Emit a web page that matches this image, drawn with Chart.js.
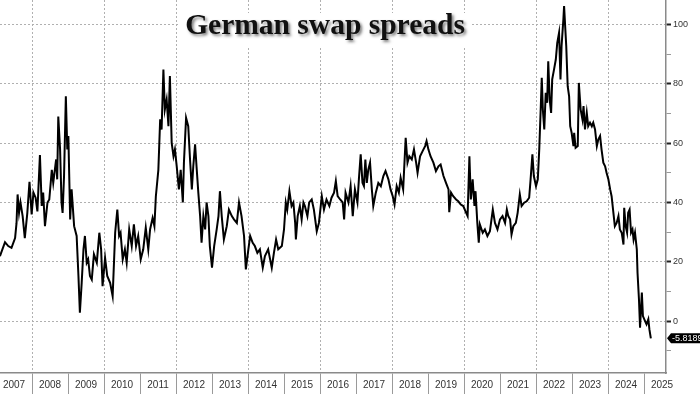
<!DOCTYPE html>
<html>
<head>
<meta charset="utf-8">
<title>German swap spreads</title>
<script src="https://cdn.jsdelivr.net/npm/chart.js@4.4.1/dist/chart.umd.min.js"></script>
<style>
    html, body { margin: 0; padding: 0; background: #fff; }
    #contenedor { position: relative; width: 700px; height: 394px; }
</style>
</head>
<body>
<div id="contenedor"><canvas id="grafico"></canvas></div>
<script>
const chartTitle = 'German swap spreads';
const years = [2007, 2008, 2009, 2010, 2011, 2012, 2013, 2014, 2015, 2016,
               2017, 2018, 2019, 2020, 2021, 2022, 2023, 2024, 2025];
const yTicks = [-10, 0, 10, 20, 30, 40, 50, 60, 70, 80, 90, 100];

// decimal years
const dates = [
    2007.11, 2007.25, 2007.34, 2007.43, 2007.53, 2007.57, 2007.60, 2007.64, 2007.68, 2007.74,
    2007.80, 2007.87, 2007.93, 2007.99, 2008.04, 2008.10, 2008.15, 2008.22, 2008.27, 2008.31,
    2008.36, 2008.43, 2008.48, 2008.55, 2008.59, 2008.67, 2008.70, 2008.73, 2008.78, 2008.82,
    2008.85, 2008.89, 2008.94, 2008.98, 2009.01, 2009.06, 2009.10, 2009.17, 2009.24, 2009.29,
    2009.33, 2009.38, 2009.43, 2009.47, 2009.52, 2009.56, 2009.61, 2009.66, 2009.72, 2009.80,
    2009.87, 2009.92, 2009.96, 2010.03, 2010.09, 2010.17, 2010.24, 2010.31, 2010.37, 2010.42,
    2010.46, 2010.52, 2010.58, 2010.63, 2010.70, 2010.77, 2010.83, 2010.89, 2010.95, 2011.02,
    2011.09, 2011.16, 2011.23, 2011.28, 2011.35, 2011.40, 2011.44, 2011.51, 2011.56, 2011.60,
    2011.65, 2011.69, 2011.74, 2011.79, 2011.83, 2011.88, 2011.93, 2011.97, 2012.02, 2012.08,
    2012.13, 2012.19, 2012.22, 2012.28, 2012.34, 2012.39, 2012.44, 2012.48, 2012.53, 2012.57,
    2012.62, 2012.67, 2012.71, 2012.76, 2012.81, 2012.85, 2012.90, 2012.94, 2013.00, 2013.06,
    2013.13, 2013.18, 2013.22, 2013.27, 2013.33, 2013.41, 2013.47, 2013.55, 2013.61, 2013.69,
    2013.75, 2013.82, 2013.89, 2013.94, 2014.01, 2014.06, 2014.13, 2014.19, 2014.26, 2014.33,
    2014.41, 2014.47, 2014.56, 2014.66, 2014.72, 2014.78, 2014.84, 2014.94, 2015.00, 2015.05,
    2015.09, 2015.15, 2015.21, 2015.26, 2015.31, 2015.33, 2015.38, 2015.44, 2015.49, 2015.54,
    2015.58, 2015.65, 2015.70, 2015.77, 2015.83, 2015.91, 2015.97, 2016.05, 2016.11, 2016.18,
    2016.26, 2016.32, 2016.39, 2016.44, 2016.49, 2016.56, 2016.63, 2016.67, 2016.71, 2016.79,
    2016.85, 2016.91, 2016.97, 2017.04, 2017.08, 2017.13, 2017.18, 2017.22, 2017.26, 2017.30,
    2017.34, 2017.39, 2017.44, 2017.48, 2017.55, 2017.62, 2017.69, 2017.76, 2017.82, 2017.90,
    2017.96, 2018.02, 2018.07, 2018.13, 2018.19, 2018.24, 2018.31, 2018.38, 2018.43, 2018.48,
    2018.55, 2018.61, 2018.67, 2018.71, 2018.78, 2018.85, 2018.92, 2018.96, 2019.01, 2019.07,
    2019.15, 2019.22, 2019.29, 2019.35, 2019.43, 2019.50, 2019.57, 2019.59, 2019.64, 2019.70,
    2019.78, 2019.84, 2019.91, 2019.98, 2020.06, 2020.10, 2020.15, 2020.19, 2020.24, 2020.29,
    2020.32, 2020.37, 2020.41, 2020.44, 2020.52, 2020.58, 2020.65, 2020.72, 2020.80, 2020.86,
    2020.93, 2021.00, 2021.07, 2021.14, 2021.19, 2021.23, 2021.28, 2021.32, 2021.37, 2021.44,
    2021.49, 2021.55, 2021.60, 2021.67, 2021.74, 2021.81, 2021.85, 2021.90, 2021.94, 2022.00,
    2022.05, 2022.09, 2022.13, 2022.16, 2022.19, 2022.23, 2022.27, 2022.31, 2022.34, 2022.38,
    2022.42, 2022.45, 2022.50, 2022.55, 2022.59, 2022.64, 2022.68, 2022.71, 2022.76, 2022.78,
    2022.81, 2022.84, 2022.88, 2022.92, 2022.95, 2022.99, 2023.04, 2023.06, 2023.10, 2023.16,
    2023.19, 2023.24, 2023.29, 2023.32, 2023.36, 2023.41, 2023.45, 2023.50, 2023.55, 2023.59,
    2023.64, 2023.69, 2023.73, 2023.78, 2023.82, 2023.87, 2023.92, 2023.96, 2024.01, 2024.06,
    2024.10, 2024.15, 2024.19, 2024.24, 2024.29, 2024.33, 2024.38, 2024.43, 2024.45, 2024.49,
    2024.53, 2024.56, 2024.60, 2024.64, 2024.68, 2024.71, 2024.75, 2024.80, 2024.82, 2024.86,
    2024.89, 2024.94, 2024.97, 2025.03, 2025.07, 2025.12, 2025.15, 2025.19
];

// swap spread, bp
const spreads = [
    21.9, 26.6, 25.3, 24.7, 28.0, 33.0, 42.7, 36.5, 40.0, 35.4,
    28.0, 36.5, 47.0, 36.0, 43.3, 41.6, 37.0, 56.0, 38.8, 43.3,
    32.0, 40.0, 41.0, 51.0, 46.6, 54.5, 47.8, 69.0, 57.9, 40.0,
    36.5, 48.9, 75.8, 57.9, 62.4, 34.3, 44.4, 32.0, 28.7, 15.2,
    2.8, 12.9, 24.2, 28.7, 19.7, 20.8, 15.2, 14.0, 22.5, 19.7,
    29.8, 24.2, 11.8, 21.3, 15.2, 12.9, 8.4, 29.8, 37.6, 28.7,
    29.8, 20.8, 24.2, 19.7, 30.9, 25.3, 32.6, 25.3, 28.7, 20.8,
    24.2, 31.5, 24.2, 30.9, 34.8, 32.0, 42.0, 51.0, 68.0, 64.6,
    84.8, 71.3, 74.7, 65.7, 82.6, 60.1, 55.6, 57.9, 52.2, 44.4,
    51.0, 40.0, 53.4, 68.5, 65.7, 54.5, 44.4, 52.2, 59.6, 52.2,
    43.3, 35.4, 26.4, 35.4, 30.9, 40.0, 35.4, 25.3, 18.0, 25.3,
    30.9, 35.4, 43.8, 35.4, 27.5, 32.0, 37.6, 35.4, 34.3, 33.1,
    40.0, 35.4, 28.7, 17.4, 24.2, 28.7, 26.4, 25.3, 23.0, 24.2,
    18.0, 21.9, 24.2, 18.0, 23.0, 27.5, 24.2, 25.3, 30.9, 40.0,
    37.6, 43.8, 38.8, 40.0, 33.1, 27.5, 35.4, 38.8, 34.3, 40.0,
    38.8, 35.4, 40.0, 41.0, 37.6, 30.3, 33.1, 42.1, 37.6, 41.0,
    38.8, 41.6, 43.3, 47.2, 42.1, 41.0, 40.0, 34.3, 43.3, 40.0,
    45.5, 35.4, 44.4, 40.0, 47.8, 56.2, 46.6, 45.5, 54.5, 46.6,
    51.0, 53.4, 44.4, 38.8, 43.3, 46.6, 45.5, 48.9, 50.6, 47.8,
    44.4, 42.1, 39.3, 45.5, 43.3, 48.3, 44.4, 61.8, 53.4, 55.6,
    54.5, 57.9, 53.4, 50.0, 55.6, 57.3, 59.0, 60.7, 57.9, 55.6,
    53.4, 50.6, 52.2, 52.8, 48.9, 46.6, 44.4, 36.7, 43.3, 42.1,
    41.0, 40.4, 39.3, 38.8, 36.5, 35.4, 55.6, 41.0, 47.8, 38.8,
    43.8, 33.1, 26.4, 32.6, 29.8, 30.9, 28.7, 30.3, 37.6, 33.1,
    30.9, 34.3, 35.4, 33.1, 37.6, 35.4, 34.3, 29.2, 32.0, 33.1,
    36.5, 42.7, 38.8, 39.9, 40.4, 41.6, 47.8, 56.2, 48.9, 45.5,
    47.8, 57.9, 71.3, 82.0, 71.3, 64.6, 77.0, 73.6, 87.6, 74.7,
    70.2, 81.5, 84.8, 88.2, 93.8, 97.2, 81.5, 92.7, 101.7, 106.2,
    99.4, 92.7, 79.2, 75.8, 65.7, 63.5, 59.0, 63.5, 58.4, 59.0,
    80.3, 71.3, 68.0, 72.5, 64.6, 70.2, 65.7, 66.9, 65.7, 66.9,
    64.6, 59.0, 61.2, 62.4, 57.9, 53.4, 52.2, 50.0, 47.8, 44.4,
    42.1, 36.5, 32.0, 33.1, 35.4, 30.9, 29.8, 25.8, 38.2, 32.0,
    29.8, 36.5, 37.6, 29.8, 30.9, 27.5, 29.8, 24.2, 16.3, 7.3,
    -2.2, 9.6, 1.7, 0.0, -1.1, 0.6, -2.8, -5.8189
];

class SpreadChart {
    constructor(canvas) {
        this.canvas = canvas;
    }

    draw() {
        return new Chart(this.canvas, {
            type: 'line',
            data: {
                datasets: [{
                    data: dates.map((d, i) => ({ x: d, y: spreads[i] })),
                    borderColor: '#000',
                    borderWidth: 2,
                    pointRadius: 0,
                    tension: 0
                }]
            },
            options: {
                responsive: true,
                maintainAspectRatio: false,
                animation: false,
                layout: { padding: 0 },
                plugins: {
                    legend: { display: false },
                    tooltip: { enabled: false }
                },
                scales: {
                    x: SpreadChart.xScale(),
                    y: SpreadChart.yScale()
                }
            },
            plugins: [SpreadChart.titleBox(), SpreadChart.lastValueTag()]
        });
    }

    static xScale() {
        return {
            type: 'linear',
            position: 'bottom',
            min: 2007.111,
            max: 2025.611,
            afterBuildTicks: scale => {
                // year separators on whole years, labels in the middle of each year
                scale.ticks = years.flatMap(y => [y, y + 0.5])
                    .filter(v => v >= scale.min && v <= scale.max)
                    .map(v => ({ value: v }));
            },
            afterFit: scale => {
                scale.height = 21;
                scale.paddingLeft = 0;
                scale.paddingRight = 0;
            },
            ticks: {
                autoSkip: false,
                maxRotation: 0,
                minRotation: 0,
                padding: -15,
                color: '#333',
                font: { family: 'Liberation Sans', size: 10 },
                callback: v => Number.isInteger(v) ? '' : String(Math.floor(v))
            },
            grid: {
                color: ctx => (ctx.tick && Number.isInteger(ctx.tick.value) && ctx.tick.value % 2 === 0) ? '#b0b0b0' : 'rgba(0,0,0,0)',
                lineWidth: 1,
                tickLength: 21,
                tickWidth: 1,
                tickColor: ctx => (ctx.tick && Number.isInteger(ctx.tick.value)) ? '#9a9a9a' : 'rgba(0,0,0,0)'
            },
            border: { color: '#8a8a8a', width: 1.5, dash: [2, 2] }
        };
    }

    static yScale() {
        return {
            position: 'right',
            min: -17.5,
            max: 108.26,
            afterBuildTicks: scale => {
                scale.ticks = yTicks.map(v => ({ value: v }));
            },
            afterFit: scale => {
                scale.width = 34;
                scale.paddingTop = 0;
                scale.paddingBottom = 0;
            },
            ticks: {
                padding: 2,
                color: '#333',
                font: { family: 'Liberation Sans', size: 9 },
                callback: v => v % 20 === 0 ? String(v) : ''
            },
            grid: {
                color: ctx => (ctx.tick && ctx.tick.value % 20 === 0) ? '#b0b0b0' : 'rgba(0,0,0,0)',
                lineWidth: 1,
                tickLength: 5,
                tickWidth: ctx => (ctx.tick && ctx.tick.value % 20 === 0) ? 2 : 1,
                tickColor: ctx => (ctx.tick && ctx.tick.value % 20 === 0) ? '#222' : '#999'
            },
            border: { color: '#8a8a8a', width: 1.5, dash: [2, 2] }
        };
    }

    // title sits inside the plot, on a white box with a soft shadow
    static titleBox() {
        return {
            id: 'titleBox',
            beforeDatasetsDraw(chart) {
                const ctx = chart.ctx;
                ctx.save();
                ctx.fillStyle = '#fff';
                ctx.fillRect(178, 13, 294, 34);
                ctx.font = 'bold 29.5px "Liberation Serif"';
                ctx.textAlign = 'center';
                ctx.textBaseline = 'alphabetic';
                ctx.shadowColor = 'rgba(0,0,0,0.5)';
                ctx.shadowBlur = 3;
                ctx.shadowOffsetX = 2;
                ctx.shadowOffsetY = 2;
                ctx.fillStyle = '#111';
                ctx.fillText(chartTitle, 325, 33.5);
                ctx.restore();
            }
        };
    }

    static lastValueTag() {
        return {
            id: 'lastValueTag',
            afterDraw(chart) {
                const ctx = chart.ctx;
                const last = spreads[spreads.length - 1];
                const y = chart.scales.y.getPixelForValue(last);
                const x = chart.chartArea.right + 1;
                ctx.save();
                ctx.fillStyle = '#000';
                ctx.beginPath();
                ctx.moveTo(x, y);
                ctx.lineTo(x + 4, y - 5);
                ctx.lineTo(chart.width, y - 5);
                ctx.lineTo(chart.width, y + 5);
                ctx.lineTo(x + 4, y + 5);
                ctx.closePath();
                ctx.fill();
                ctx.fillStyle = '#fff';
                ctx.font = '9px "Liberation Sans"';
                ctx.textBaseline = 'middle';
                ctx.textAlign = 'left';
                ctx.fillText(String(last), x + 5, y + 0.5);
                ctx.restore();
            }
        };
    }
}

SpreadChart.instancia = new SpreadChart(document.getElementById('grafico'));
SpreadChart.instancia.draw();
</script>
</body>
</html>
